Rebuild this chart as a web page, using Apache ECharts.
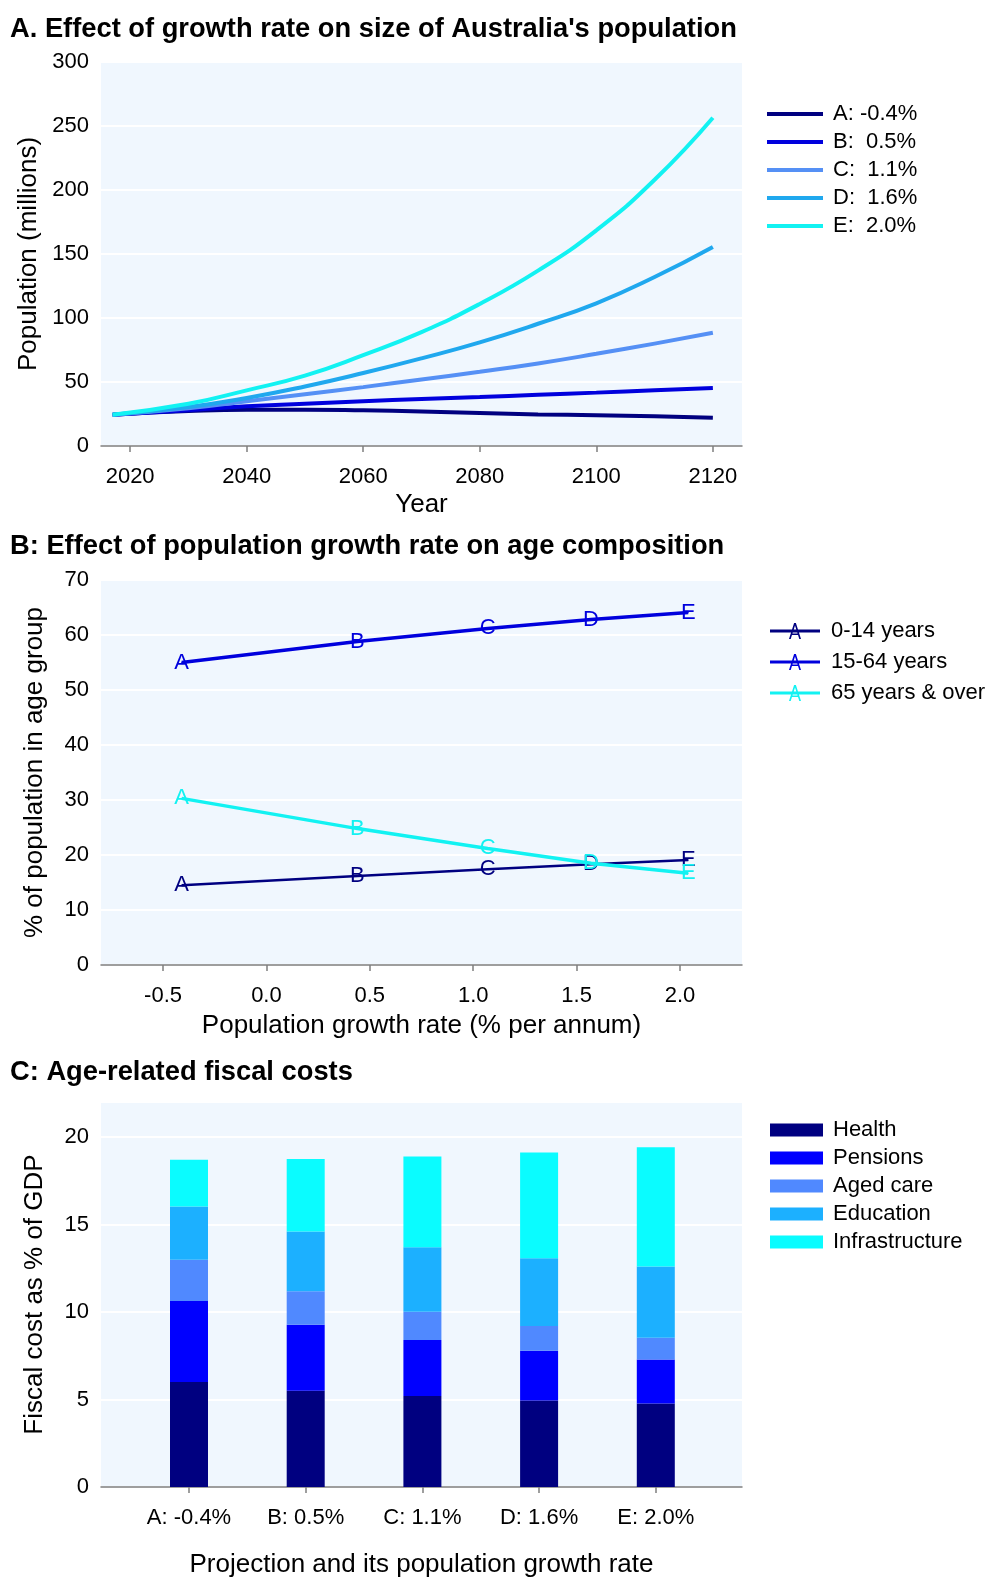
<!DOCTYPE html>
<html>
<head>
<meta charset="utf-8">
<script src="https://cdn.jsdelivr.net/npm/echarts@6/dist/echarts.min.js"></script>
<style>
html,body{margin:0;padding:0;background:#ffffff;}
#chart{width:993px;height:1577px;}
</style>
</head>
<body>
<div id="chart"></div>
<script>
// ---------- Panel A data ----------
const years = [2017, 2030, 2040, 2050, 2060, 2070, 2080, 2090, 2100, 2110, 2120];
const yearTicks = [2020, 2040, 2060, 2080, 2100, 2120];
const popA = [24.5, 27.3, 28.4, 28.4, 27.9, 27.0, 25.8, 24.7, 24.0, 23.2, 22.0];
const popB = [24.5, 28.0, 31.0, 33.0, 35.0, 36.7, 38.3, 40.0, 41.7, 43.5, 45.3];
const popC = [24.5, 29.5, 35.0, 40.5, 46.0, 52.0, 58.0, 64.5, 72.0, 80.0, 88.5];
const popD = [24.5, 30.5, 37.5, 46.5, 57.0, 68.5, 81.0, 95.5, 111.5, 132.0, 155.5];
const popE = [24.5, 33.0, 43.5, 55.0, 71.0, 89.0, 111.0, 137.0, 168.5, 208.0, 256.5];
const projNamesLegend = ['A: -0.4%', 'B:  0.5%', 'C:  1.1%', 'D:  1.6%', 'E:  2.0%'];

// ---------- Panel B data ----------
const growthRates = [-0.41, 0.44, 1.07, 1.57, 2.04];
const pointLetters = ['A', 'B', 'C', 'D', 'E'];
const rateTicks = [-0.5, 0.0, 0.5, 1.0, 1.5, 2.0];
const age0to14 = [14.5, 16.2, 17.4, 18.3, 19.1];
const age15to64 = [55.0, 58.8, 61.2, 62.8, 64.1];
const age65plus = [30.3, 24.8, 21.2, 18.5, 16.7];
const ageGroups = ['0-14 years', '15-64 years', '65 years & over'];

// ---------- Panel C data ----------
const projections = ['A: -0.4%', 'B: 0.5%', 'C: 1.1%', 'D: 1.6%', 'E: 2.0%'];
const health = [6.0, 5.5, 5.2, 4.95, 4.77];
const pensions = [4.63, 3.77, 3.2, 2.84, 2.52];
const agedCare = [2.35, 1.91, 1.62, 1.41, 1.24];
const education = [3.05, 3.42, 3.68, 3.87, 4.07];
const infrastructure = [2.67, 4.14, 5.19, 6.05, 6.81];
const costNames = ['Health', 'Pensions', 'Aged care', 'Education', 'Infrastructure'];

// ---------- styles ----------
const FONT = 'Liberation Sans, Arial, Helvetica, sans-serif';
const BG = '#f0f7fe';
const AXIS_GRAY = '#7f7f7f';
const lineColorsA = ['#000080', '#0000dd', '#5590f5', '#20a8ee', '#12f2f2'];
const ageColors = ['#000080', '#0000dd', '#12f2f2'];
const costColors = ['#000080', '#0000ff', '#5089ff', '#1cb0ff', '#0afcff'];

const letterIcon = 'path://M0,6.5 L50,6.5 L50,9.5 L0,9.5 Z M19,16 L24.1,0 L25.9,0 L31,16 L29.3,16 L25,2.4 L20.7,16 Z M21.3,10.6 L28.7,10.6 L28.7,12.1 L21.3,12.1 Z';

const chart = echarts.init(document.getElementById('chart'), null, {renderer: 'canvas'});

const grids = [
  {left: 101, top: 62, width: 641, height: 384, show: true},
  {left: 101, top: 580, width: 641, height: 385, show: true},
  {left: 101, top: 1102, width: 641, height: 385, show: true},
  {left: 130.65, top: 1102, width: 583.5, height: 385, show: false}
].map(g => Object.assign(g, {backgroundColor: BG, borderWidth: 0, containLabel: false, outerBoundsMode: 'none'}));

const labelBase = {fontFamily: FONT, fontSize: 22, color: '#000'};
const tickBase = {show: true, length: 6, lineStyle: {color: AXIS_GRAY, width: 1.5}};

function xAxisBase(idx, extra) {
  return Object.assign({
    gridIndex: idx,
    type: 'value',
    nameLocation: 'middle',
    nameTextStyle: {fontFamily: FONT, fontSize: 26, color: '#000'},
    axisLine: {show: true, onZero: false, lineStyle: {color: AXIS_GRAY, width: 1.5}},
    axisTick: tickBase,
    axisLabel: Object.assign({margin: 20}, labelBase),
    splitLine: {show: false}
  }, extra);
}
function yAxisBase(idx, extra) {
  return Object.assign({
    gridIndex: idx,
    type: 'value',
    nameLocation: 'middle',
    nameGap: 53,
    nameTextStyle: {fontFamily: FONT, fontSize: 26, color: '#000'},
    axisLine: {show: false},
    axisTick: {show: false},
    axisLabel: Object.assign({margin: 12}, labelBase),
    splitLine: {show: true, lineStyle: {color: '#ffffff', width: 2}}
  }, extra);
}

const popSeries = [popA, popB, popC, popD, popE];
const seriesA = popSeries.map((arr, k) => ({
  name: projNamesLegend[k],
  type: 'line',
  xAxisIndex: 0, yAxisIndex: 0,
  data: years.map((yr, i) => [yr, arr[i]]),
  smooth: true,
  symbol: 'none',
  color: lineColorsA[k],
  lineStyle: {width: 4, color: lineColorsA[k]},
  z: 2 + k
}));

const ageSeriesData = [age0to14, age15to64, age65plus];
const seriesB = ageSeriesData.map((arr, k) => ({
  name: ageGroups[k],
  type: 'line',
  xAxisIndex: 1, yAxisIndex: 1,
  data: growthRates.map((r, i) => [r, arr[i]]),
  symbol: 'circle',
  symbolSize: 1,
  color: ageColors[k],
  itemStyle: {color: ageColors[k]},
  lineStyle: {width: k === 0 ? 2.5 : 3.5, color: ageColors[k]},
  label: {
    show: true,
    position: 'inside',
    formatter: p => pointLetters[p.dataIndex],
    color: ageColors[k],
    fontFamily: FONT,
    fontSize: 22
  },
  z: 2 + k
}));

const costData = [health, pensions, agedCare, education, infrastructure];
const seriesC = costData.map((arr, k) => ({
  name: costNames[k],
  type: 'bar',
  xAxisIndex: 3, yAxisIndex: 3,
  stack: 'cost',
  barWidth: 38,
  data: arr,
  itemStyle: {color: costColors[k]},
  color: costColors[k]
}));

const titleStyle = {fontFamily: FONT, fontSize: 27.3, fontWeight: 'bold', color: '#000'};

const option = {
  animation: false,
  backgroundColor: '#ffffff',
  textStyle: {fontFamily: FONT},
  title: [
    {text: "A. Effect of growth rate on size of Australia's population", left: 10, top: 16, padding: 0, textStyle: titleStyle},
    {text: 'B: Effect of population growth rate on age composition', left: 10, top: 533, padding: 0, textStyle: titleStyle},
    {text: 'C: Age-related fiscal costs', left: 10, top: 1059, padding: 0, textStyle: titleStyle}
  ],
  legend: [
    {
      orient: 'vertical', left: 767, top: 103, padding: 0,
      itemWidth: 56, itemHeight: 4, itemGap: 6,
      icon: 'rect',
      data: projNamesLegend,
      textStyle: {fontFamily: FONT, fontSize: 22, color: '#000', lineHeight: 22, padding: [0, 0, 0, 5]}
    },
    {
      orient: 'vertical', left: 770, top: 620, padding: 0,
      itemWidth: 50, itemHeight: 16, itemGap: 9,
      data: ageGroups.map(n => ({name: n, icon: letterIcon})),
      textStyle: {fontFamily: FONT, fontSize: 22, color: '#000', lineHeight: 22, padding: [0, 0, 0, 6]}
    },
    {
      orient: 'vertical', left: 770, top: 1119, padding: 0,
      itemWidth: 53, itemHeight: 13, itemGap: 6,
      icon: 'rect',
      data: costNames,
      textStyle: {fontFamily: FONT, fontSize: 22, color: '#000', lineHeight: 22, padding: [0, 0, 0, 5]}
    }
  ],
  grid: grids,
  xAxis: [
    xAxisBase(0, {
      min: 2015, max: 2125, name: 'Year', nameGap: 46,
      axisLabel: Object.assign({margin: 20, customValues: yearTicks, formatter: v => String(v)}, labelBase),
      axisTick: Object.assign({customValues: yearTicks}, tickBase)
    }),
    xAxisBase(1, {
      min: -0.8, max: 2.3, name: 'Population growth rate (% per annum)', nameGap: 48,
      axisLabel: Object.assign({margin: 20, customValues: rateTicks, formatter: v => Number(v).toFixed(1)}, labelBase),
      axisTick: Object.assign({customValues: rateTicks}, tickBase)
    }),
    xAxisBase(2, {
      min: 0, max: 1, name: 'Projection and its population growth rate', nameGap: 65,
      axisLabel: {show: false},
      axisTick: {show: false}
    }),
    {
      gridIndex: 3,
      type: 'category',
      data: projections,
      boundaryGap: true,
      axisLine: {show: false},
      axisTick: {show: true, alignWithLabel: true, length: 6, lineStyle: {color: AXIS_GRAY, width: 1.5}},
      axisLabel: Object.assign({margin: 20, interval: 0}, labelBase),
      splitLine: {show: false}
    }
  ],
  yAxis: [
    yAxisBase(0, {min: 0, max: 300, interval: 50, name: 'Population (millions)'}),
    yAxisBase(1, {min: 0, max: 70, interval: 10, name: '% of population in age group'}),
    yAxisBase(2, {min: 0, max: 22, interval: 5, name: 'Fiscal cost as % of GDP',
      axisLabel: Object.assign({margin: 12, showMaxLabel: false}, labelBase)}),
    {gridIndex: 3, type: 'value', min: 0, max: 22, show: false, splitLine: {show: false}}
  ],
  series: [].concat(seriesA, seriesB, seriesC)
};

chart.setOption(option);
</script>
</body>
</html>
